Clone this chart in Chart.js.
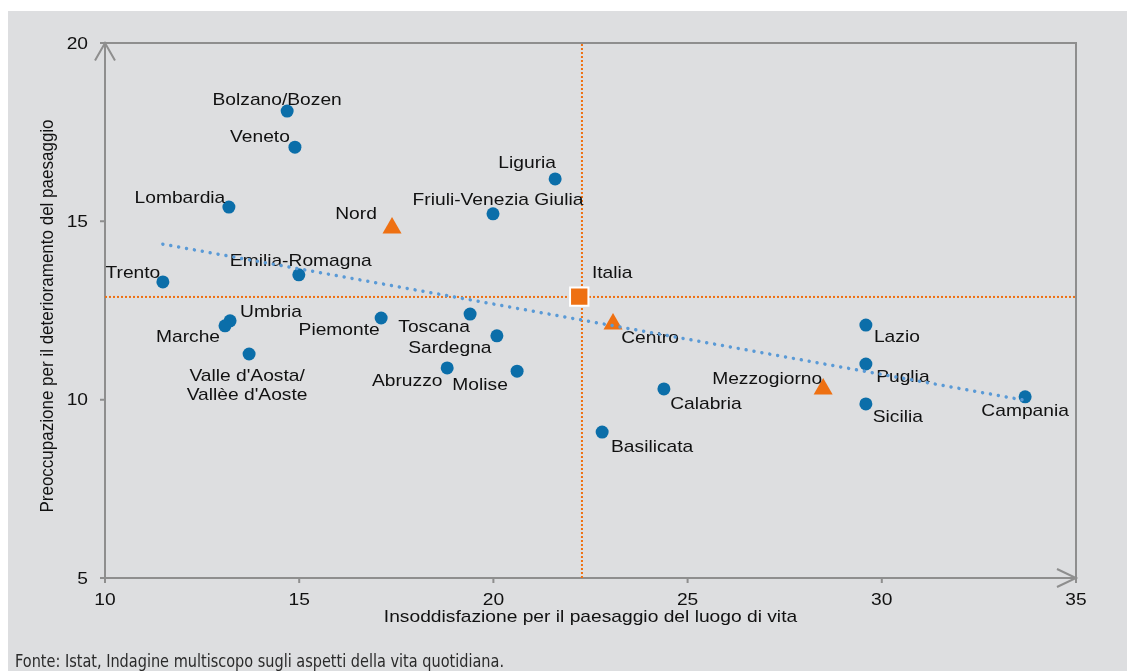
<!DOCTYPE html>
<html>
<head>
<meta charset="utf-8">
<script src="https://cdn.jsdelivr.net/npm/chart.js@4/dist/chart.umd.min.js"></script>
<style>
  html, body { margin: 0; padding: 0; background: #ffffff; }
  #wrap { width: 1127px; height: 671px; }
</style>
</head>
<body>
<div id="wrap"><canvas id="c" width="1127" height="671"></canvas></div>
<script>
// ---- DATA ----
const regions = ['Bolzano/Bozen','Veneto','Lombardia','Friuli-Venezia Giulia','Liguria','Trento',
  'Emilia-Romagna','Umbria','Marche',"Valle d'Aosta/\nVallèe d'Aoste",'Piemonte','Toscana','Sardegna',
  'Abruzzo','Molise','Basilicata','Calabria','Lazio','Puglia','Sicilia','Campania'];
const regionX = [14.69,14.89,13.19,19.99,21.59,11.49,14.99,13.22,13.09,13.71,17.11,19.40,20.09,18.81,20.61,22.80,24.39,29.59,29.59,29.59,33.69];
const regionY = [18.09,17.08,15.40,15.21,16.19,13.30,13.50,12.21,12.07,11.28,12.29,12.40,11.79,10.89,10.80,9.09,10.30,12.09,11.00,9.88,10.08];

const macroAreas = ['Nord','Centro','Mezzogiorno'];
const macroX = [17.39, 23.08, 28.49];
const macroY = [14.81, 12.12, 10.30];

const italiaLabel = ['Italia'];
const italiaX = [22.21];
const italiaY = [12.89];

const refLineX = [22.28];
const refLineY = [12.88];

const trendX = [11.49, 33.64];
const trendY = [14.36, 9.99];

const xTicks = [10, 15, 20, 25, 30, 35];
const yTicks = [5, 10, 15, 20];

const xTitle = 'Insoddisfazione per il paesaggio del luogo di vita';
const yTitle = 'Preoccupazione per il deterioramento del paesaggio';
const sourceNote = 'Fonte: Istat, Indagine multiscopo sugli aspetti della vita quotidiana.';

// ---- STYLE (label placement relative to marker, px) ----
const labelOffsets = {
  'Bolzano/Bozen': [-10,-11], 'Veneto': [-35,-10], 'Lombardia': [-49,-9],
  'Friuli-Venezia Giulia': [5,-14], 'Liguria': [-28,-16], 'Trento': [-30,-9],
  'Emilia-Romagna': [2,-14], 'Umbria': [41,-9], 'Marche': [-37,11],
  "Valle d'Aosta/\nVallèe d'Aoste": [-2,22], 'Piemonte': [-42,12], 'Toscana': [-36,13],
  'Sardegna': [-47,12], 'Abruzzo': [-40,13], 'Molise': [-37,14], 'Basilicata': [50,15],
  'Calabria': [42,15], 'Lazio': [31,12], 'Puglia': [37,13], 'Sicilia': [32,13],
  'Campania': [0,14], 'Nord': [-36,-14], 'Centro': [37,14], 'Mezzogiorno': [-56,-10],
  'Italia': [33,-23]
};
const SX = 1.13;            // horizontal stretch of the original's text
const FONT = '17px "Liberation Sans", Arial, sans-serif';
const AXIS_COLOR = '#8e8e8e';
const BLUE = '#0b6ea9';
const ORANGE = '#ee7012';

function stretchedText(ctx, text, x, y, rotate) {
  ctx.save();
  ctx.translate(x, y);
  ctx.scale(SX, 1);
  if (rotate) ctx.rotate(-Math.PI / 2);
  ctx.fillText(text, 0, 0);
  ctx.restore();
}

const zip = (xs, ys) => xs.map((x, i) => ({ x: x, y: ys[i] }));

const bgPlugin = {
  id: 'bg',
  beforeDraw(chart) {
    const ctx = chart.ctx;
    ctx.save();
    ctx.fillStyle = '#ffffff';
    ctx.fillRect(0, 0, chart.width, chart.height);
    ctx.fillStyle = '#dddee0';
    ctx.fillRect(8, 11, chart.width - 8, chart.height - 11);
    ctx.restore();
  },
  beforeDatasetsDraw(chart) {
    const ctx = chart.ctx;
    const xs = chart.scales.x, ys = chart.scales.y;
    const L = xs.getPixelForValue(xTicks[0]);
    const R = xs.getPixelForValue(xTicks[xTicks.length - 1]);
    const B = ys.getPixelForValue(yTicks[0]);
    const T = ys.getPixelForValue(yTicks[yTicks.length - 1]);
    ctx.save();
    ctx.strokeStyle = AXIS_COLOR;
    ctx.lineWidth = 2;
    ctx.lineCap = 'butt';
    ctx.beginPath();
    // frame top and right
    ctx.moveTo(L - 5, T); ctx.lineTo(R + 1, T);
    ctx.moveTo(R, T); ctx.lineTo(R, B + 5);
    // axes
    ctx.moveTo(L, T); ctx.lineTo(L, B + 5);
    ctx.moveTo(L - 5, B); ctx.lineTo(R, B);
    // ticks
    xTicks.forEach(v => { const p = xs.getPixelForValue(v); ctx.moveTo(p, B); ctx.lineTo(p, B + 5); });
    yTicks.forEach(v => { const p = ys.getPixelForValue(v); ctx.moveTo(L - 5, p); ctx.lineTo(L, p); });
    ctx.stroke();
    // arrow heads
    ctx.beginPath();
    ctx.moveTo(L - 10, T + 17.5); ctx.lineTo(L, T); ctx.lineTo(L + 10, T + 17.5);
    ctx.moveTo(R - 19, B - 9); ctx.lineTo(R, B); ctx.lineTo(R - 19, B + 9);
    ctx.stroke();
    // tick labels
    ctx.fillStyle = '#111111';
    ctx.font = FONT;
    ctx.textBaseline = 'middle';
    ctx.textAlign = 'center';
    xTicks.forEach(v => stretchedText(ctx, String(v), xs.getPixelForValue(v), B + 22, false));
    ctx.textAlign = 'right';
    yTicks.forEach(v => stretchedText(ctx, String(v), L - 17, ys.getPixelForValue(v) + 1, false));
    // titles
    ctx.textAlign = 'center';
    stretchedText(ctx, xTitle, (L + R) / 2, B + 39, false);
    stretchedText(ctx, yTitle, 48, 316, true);
    // source note
    ctx.font = '17px "Liberation Sans Narrow", "DejaVu Sans Condensed", "Liberation Sans", sans-serif';
    ctx.textAlign = 'left';
    ctx.textBaseline = 'alphabetic';
    ctx.fillStyle = '#2a2a2a';
    const w = ctx.measureText(sourceNote).width;
    ctx.save();
    ctx.translate(15, 667);
    ctx.scale(489 / w, 1);
    ctx.fillText(sourceNote, 0, 0);
    ctx.restore();
    ctx.restore();
  },
  beforeDatasetDraw(chart, args) {
    if (chart.data.datasets[args.index].label !== 'trend') return;
    const ctx = chart.ctx;
    const xs = chart.scales.x, ys = chart.scales.y;
    ctx.save();
    ctx.fillStyle = '#111111';
    ctx.font = FONT;
    ctx.textAlign = 'center';
    ctx.textBaseline = 'middle';
    const put = (names, X, Y) => names.forEach((n, i) => {
      const off = labelOffsets[n] || [0, -14];
      const px = xs.getPixelForValue(X[i]) + off[0];
      const py = ys.getPixelForValue(Y[i]) + off[1];
      n.split('\n').forEach((line, k) => stretchedText(ctx, line, px, py + k * 19, false));
    });
    put(regions, regionX, regionY);
    put(macroAreas, macroX, macroY);
    put(italiaLabel, italiaX, italiaY);
    ctx.restore();
  }
};

new Chart(document.getElementById('c'), {
  type: 'scatter',
  data: {
    datasets: [
      {
        label: 'refV', type: 'line', order: 6,
        data: [{ x: refLineX[0], y: yTicks[0] }, { x: refLineX[0], y: yTicks[yTicks.length - 1] }],
        borderColor: ORANGE, borderWidth: 2, borderDash: [2, 2], pointRadius: 0, fill: false
      },
      {
        label: 'refH', type: 'line', order: 6,
        data: [{ x: xTicks[0], y: refLineY[0] }, { x: xTicks[xTicks.length - 1], y: refLineY[0] }],
        borderColor: ORANGE, borderWidth: 2, borderDash: [2, 2], pointRadius: 0, fill: false
      },
      {
        label: 'regioni', order: 5,
        data: zip(regionX, regionY),
        pointStyle: 'circle', pointRadius: 6.5, backgroundColor: BLUE, borderWidth: 0
      },
      {
        label: 'ripartizioni', order: 4,
        data: zip(macroX, macroY),
        pointStyle: 'triangle', pointRadius: 11, backgroundColor: ORANGE, borderWidth: 0
      },
      {
        label: 'Italia', order: 3,
        data: zip(italiaX, italiaY),
        pointStyle: 'rect', pointRadius: 13, backgroundColor: ORANGE, borderColor: '#ffffff', borderWidth: 2
      },
      {
        label: 'trend', type: 'line', order: 1,
        data: zip(trendX, trendY),
        borderColor: '#5a9ad6', borderWidth: 3.5, borderDash: [0.01, 8], borderCapStyle: 'round',
        pointRadius: 0, fill: false
      }
    ]
  },
  options: {
    responsive: false,
    animation: false,
    devicePixelRatio: 1,
    events: [],
    layout: { padding: { left: 105, top: 43, right: 51, bottom: 93 } },
    plugins: { legend: { display: false }, tooltip: { enabled: false } },
    scales: {
      x: { type: 'linear', min: 10, max: 35, display: false },
      y: { type: 'linear', min: 5, max: 20, display: false }
    }
  },
  plugins: [bgPlugin]
});
</script>
</body>
</html>
